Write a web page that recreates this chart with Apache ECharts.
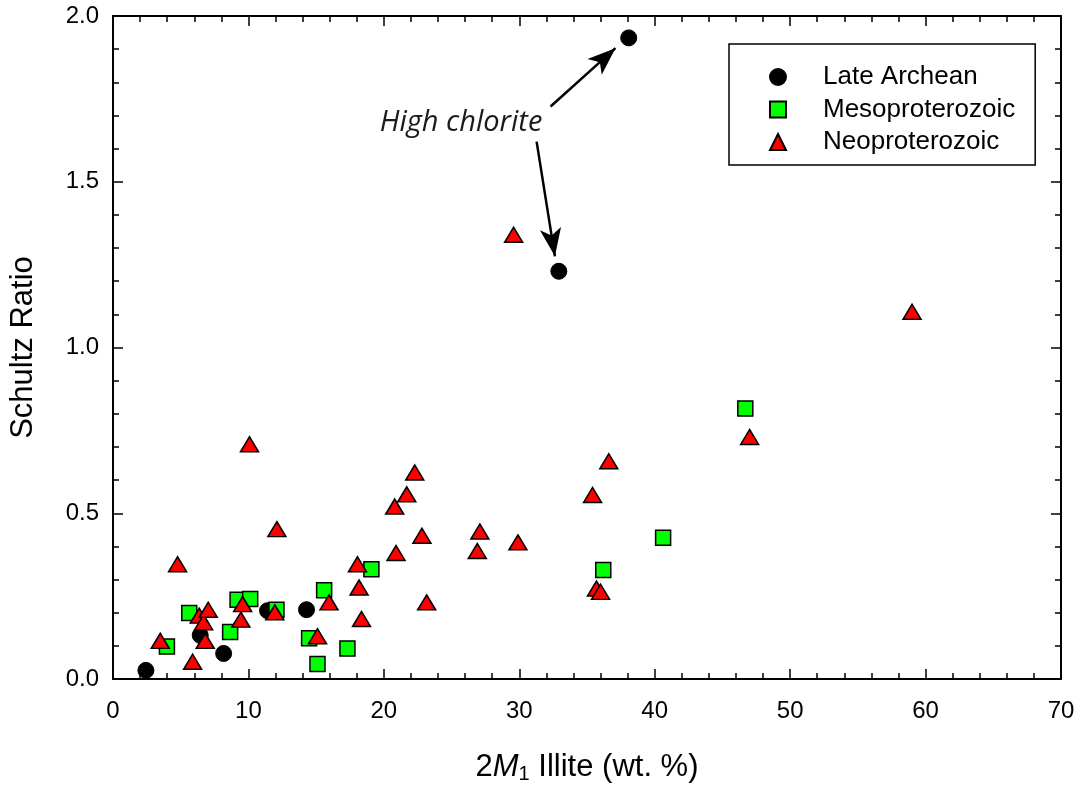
<!DOCTYPE html>
<html>
<head>
<meta charset="utf-8">
<script src="https://cdn.jsdelivr.net/npm/echarts@6/dist/echarts.min.js"></script>
<style>html,body{margin:0;padding:0;background:#fff}#c{width:1082px;height:789px}</style>
</head>
<body>
<div id="c"></div>
<script>
// ---- data ----
const seriesNames = ['Late Archean', 'Mesoproterozoic', 'Neoproterozoic'];

const lateArcheanX = [2.43, 6.44, 8.17, 11.41, 14.29, 32.92, 38.08];
const lateArcheanY = [0.026, 0.132, 0.077, 0.206, 0.209, 1.230, 1.934];

const mesoX = [3.98, 5.63, 8.65, 9.20, 10.13, 12.07, 14.48, 15.10, 15.59, 17.31, 19.08, 36.20, 40.62, 46.69];
const mesoY = [0.098, 0.199, 0.142, 0.239, 0.241, 0.209, 0.123, 0.045, 0.268, 0.092, 0.331, 0.329, 0.426, 0.816];

const neoX = [3.49, 4.77, 5.88, 6.37, 6.69, 6.81, 7.03, 9.44, 9.57, 10.08, 11.95, 12.10, 15.10, 15.95, 18.05, 18.17, 18.35,
              20.80, 20.90, 21.69, 22.28, 22.81, 23.16, 26.90, 27.09, 29.90, 29.58, 35.70, 36.00, 35.41, 36.61, 47.01, 59.00];
const neoY = [0.115, 0.346, 0.052, 0.191, 0.171, 0.115, 0.209, 0.179, 0.226, 0.708, 0.201, 0.452, 0.129, 0.231, 0.346, 0.276, 0.181,
              0.520, 0.380, 0.557, 0.623, 0.432, 0.231, 0.386, 0.445, 0.412, 1.340, 0.273, 0.263, 0.555, 0.657, 0.730, 1.108];

const xTickValues = [0, 10, 20, 30, 40, 50, 60, 70];
const yTickValues = [0.0, 0.5, 1.0, 1.5, 2.0];

const annotationText = 'High chlorite';
const annotationAt = [25.7, 1.678];
const arrowLines = [
  [[32.31, 1.727], [37.10, 1.903]],
  [[31.28, 1.621], [32.63, 1.275]]
];

// ---- chart ----
const pair = (xs, ys) => xs.map((x, i) => [x, ys[i]]);
const FONT = '"Liberation Sans", Arial, Helvetica, sans-serif';

function xAxisDef(pos, showLabels) {
  return {
    type: 'value', position: pos, gridIndex: 0,
    min: xTickValues[0], max: xTickValues[xTickValues.length - 1], interval: 10,
    axisLine: { show: true, onZero: false, lineStyle: { color: '#000', width: 2 } },
    axisTick: { show: true, inside: true, length: 10, lineStyle: { color: '#000', width: 1.5 } },
    minorTick: { show: true, splitNumber: 5, length: 6, lineStyle: { color: '#000', width: 1.5 } },
    splitLine: { show: false }, minorSplitLine: { show: false },
    axisLabel: { show: showLabels, margin: 20, color: '#000', fontSize: 24, fontFamily: FONT }
  };
}
function yAxisDef(pos, showLabels) {
  return {
    type: 'value', position: pos, gridIndex: 0,
    min: yTickValues[0], max: yTickValues[yTickValues.length - 1], interval: 0.5,
    axisLine: { show: true, onZero: false, lineStyle: { color: '#000', width: 2 } },
    axisTick: { show: true, inside: true, length: 10, lineStyle: { color: '#000', width: 1.5 } },
    minorTick: { show: true, splitNumber: 5, length: 6, lineStyle: { color: '#000', width: 1.5 } },
    splitLine: { show: false }, minorSplitLine: { show: false },
    axisLabel: { show: showLabels, margin: 14, color: '#000', fontSize: 24, fontFamily: FONT,
                 formatter: v => v.toFixed(1) }
  };
}

const xMain = xAxisDef('bottom', true);
xMain.name = '{a|2}{b|M}{c|1}{a| Illite (wt. %)}';
xMain.nameLocation = 'middle';
xMain.nameGap = 71;
xMain.nameTextStyle = {
  rich: {
    a: { fontSize: 31, fontFamily: FONT, color: '#000' },
    b: { fontSize: 31, fontFamily: FONT, fontStyle: 'italic', color: '#000' },
    c: { fontSize: 20, fontFamily: FONT, color: '#000', padding: [14, 0, 0, 0] }
  }
};
const yMain = yAxisDef('left', true);
yMain.name = 'Schultz Ratio';
yMain.nameLocation = 'middle';
yMain.nameGap = 74;
yMain.nameTextStyle = { fontSize: 31, fontFamily: FONT, color: '#000' };

const chart = echarts.init(document.getElementById('c'), null, { renderer: 'canvas' });
chart.setOption({
  animation: false,
  backgroundColor: '#fff',
  grid: { left: 112, right: 21, top: 16, bottom: 109, containLabel: false },
  xAxis: [xMain, xAxisDef('top', false)],
  yAxis: [yMain, yAxisDef('right', false)],
  legend: {
    orient: 'vertical', left: 729, top: 44,
    padding: [20, 20, 10, 40], itemGap: 6.5,
    itemWidth: 16, itemHeight: 16, symbolKeepAspect: true,
    borderColor: '#000', borderWidth: 1.5,
    textStyle: { fontSize: 26, fontFamily: FONT, color: '#000', padding: [0, 0, 0, 32] },
    data: seriesNames
  },
  series: [
    {
      name: seriesNames[0], type: 'scatter', xAxisIndex: 0, yAxisIndex: 0,
      symbol: 'circle', symbolSize: 16,
      itemStyle: { color: '#000', borderColor: '#000', borderWidth: 1, opacity: 1 },
      data: pair(lateArcheanX, lateArcheanY),
      markPoint: {
        silent: true, animation: false,
        symbol: 'circle', symbolSize: 1, itemStyle: { color: 'rgba(0,0,0,0)' },
        label: { show: true, position: 'inside', formatter: annotationText,
                 fontFamily: '"Open Sans", sans-serif', fontStyle: 'italic', fontSize: 29, color: '#1a1a1a' },
        data: [{ coord: annotationAt }]
      },
      markLine: {
        silent: true, animation: false,
        symbol: ['none', 'arrow'], symbolSize: [16, 28],
        lineStyle: { color: '#000', width: 2.5, type: 'solid' },
        itemStyle: { color: '#000' },
        label: { show: false },
        data: arrowLines.map(l => [{ coord: l[0] }, { coord: l[1] }])
      }
    },
    {
      name: seriesNames[1], type: 'scatter', xAxisIndex: 0, yAxisIndex: 0,
      symbol: 'rect', symbolSize: 15,
      itemStyle: { color: '#00ff00', borderColor: '#000', borderWidth: 1.5, opacity: 1 },
      data: pair(mesoX, mesoY)
    },
    {
      name: seriesNames[2], type: 'scatter', xAxisIndex: 0, yAxisIndex: 0,
      symbol: 'triangle', symbolSize: [18, 15],
      itemStyle: { color: '#ff0000', borderColor: '#000', borderWidth: 1.5, opacity: 1 },
      data: pair(neoX, neoY)
    }
  ]
});
</script>
</body>
</html>
